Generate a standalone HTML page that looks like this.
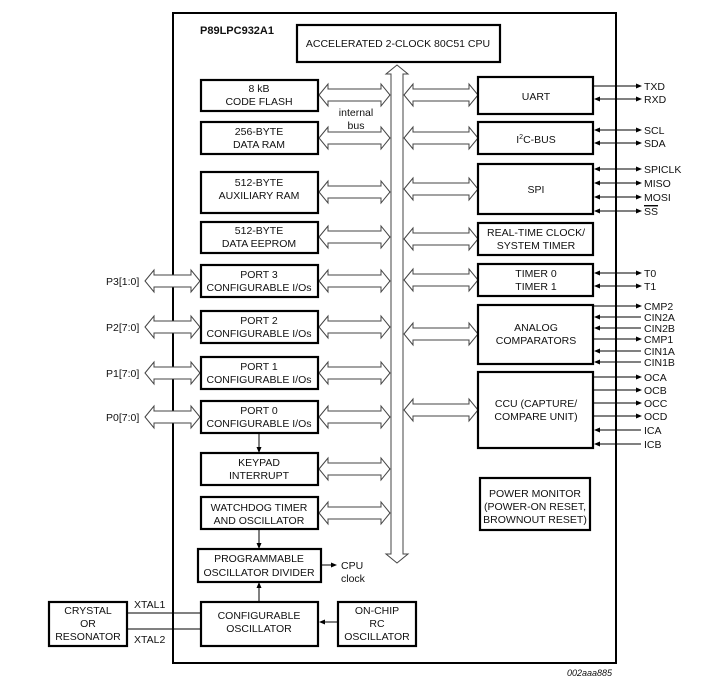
<!DOCTYPE html>
<html><head><meta charset="utf-8"><style>
html,body{margin:0;padding:0;background:#fff;}
svg{display:block;}
text{font-family:"Liberation Sans",Arial,sans-serif;font-size:10.5px;fill:#111;}
.c{text-anchor:middle;}
.b{fill:#fff;stroke:#000;stroke-width:2.2;}
.h{fill:#fff;stroke:#444;stroke-width:1;}
.l{stroke:#000;stroke-width:1;fill:none;}
</style></head><body>
<svg width="715" height="681" viewBox="0 0 715 681" xmlns="http://www.w3.org/2000/svg">
<defs>
<marker id="ar" markerWidth="6" markerHeight="6" refX="5" refY="3" orient="auto" markerUnits="userSpaceOnUse"><path d="M0,0.5 L6,3 L0,5.5z" fill="#000"/></marker>
<marker id="as" markerWidth="6" markerHeight="6" refX="1" refY="3" orient="auto" markerUnits="userSpaceOnUse"><path d="M6,0.5 L0,3 L6,5.5z" fill="#000"/></marker>
<polygon id="gL" class="h" points="319,0 328,-11 328,-6 381,-6 381,-11 390,0 381,11 381,6 328,6 328,11"/>
<polygon id="gR" class="h" points="404,0 413,-11 413,-6 469,-6 469,-11 478,0 469,11 469,6 413,6 413,11"/>
<polygon id="gP" class="h" points="145,0 154,-11 154,-6 191,-6 191,-11 200,0 191,11 191,6 154,6 154,11"/>
</defs>
<rect x="173" y="13" width="443" height="650" fill="none" stroke="#000" stroke-width="2"/>
<text x="200" y="34" style="font-weight:bold;font-size:11px">P89LPC932A1</text>
<rect class="b" x="297" y="25" width="203" height="37"/>
<text class="c" x="398" y="47">ACCELERATED 2-CLOCK 80C51 CPU</text>
<polygon class="h" points="397,65 408,74 403,74 403,554 408,554 397,563 386,554 391,554 391,74 386,74"/>
<text class="c" x="356" y="116">internal</text><text class="c" x="356" y="129">bus</text>

<use href="#gL" y="95"/><use href="#gL" y="138"/><use href="#gL" y="192"/><use href="#gL" y="237"/>
<use href="#gL" y="281"/><use href="#gL" y="327"/><use href="#gL" y="373"/><use href="#gL" y="417"/>
<use href="#gL" y="469"/><use href="#gL" y="513"/>
<use href="#gR" y="95"/><use href="#gR" y="138"/><use href="#gR" y="189"/><use href="#gR" y="239"/>
<use href="#gR" y="280"/><use href="#gR" y="334"/><use href="#gR" y="410"/>
<use href="#gP" y="281"/><use href="#gP" y="327"/><use href="#gP" y="373"/><use href="#gP" y="417"/>
<text x="106" y="285">P3[1:0]</text><text x="106" y="331">P2[7:0]</text><text x="106" y="377">P1[7:0]</text><text x="106" y="421">P0[7:0]</text>

<rect class="b" x="201" y="80" width="117" height="31"/><text class="c" x="259" y="92">8 kB</text><text class="c" x="259" y="105">CODE FLASH</text>
<rect class="b" x="201" y="122" width="117" height="32"/><text class="c" x="259" y="135">256-BYTE</text><text class="c" x="259" y="148">DATA RAM</text>
<rect class="b" x="201" y="172" width="117" height="41"/><text class="c" x="259" y="186">512-BYTE</text><text class="c" x="259" y="199">AUXILIARY RAM</text>
<rect class="b" x="201" y="222" width="117" height="31"/><text class="c" x="259" y="234">512-BYTE</text><text class="c" x="259" y="247">DATA EEPROM</text>
<rect class="b" x="201" y="265" width="117" height="32"/><text class="c" x="259" y="278">PORT 3</text><text class="c" x="259" y="291">CONFIGURABLE I/Os</text>
<rect class="b" x="201" y="311" width="117" height="32"/><text class="c" x="259" y="324">PORT 2</text><text class="c" x="259" y="337">CONFIGURABLE I/Os</text>
<rect class="b" x="201" y="357" width="117" height="32"/><text class="c" x="259" y="370">PORT 1</text><text class="c" x="259" y="383">CONFIGURABLE I/Os</text>
<rect class="b" x="201" y="401" width="117" height="32"/><text class="c" x="259" y="414">PORT 0</text><text class="c" x="259" y="427">CONFIGURABLE I/Os</text>
<line class="l" x1="259" y1="434" x2="259" y2="452" marker-end="url(#ar)"/>
<rect class="b" x="201" y="453" width="117" height="32"/><text class="c" x="259" y="466">KEYPAD</text><text class="c" x="259" y="479">INTERRUPT</text>
<rect class="b" x="201" y="497" width="117" height="32"/><text class="c" x="259" y="511">WATCHDOG TIMER</text><text class="c" x="259" y="524">AND OSCILLATOR</text>
<line class="l" x1="259" y1="530" x2="259" y2="548" marker-end="url(#ar)"/>
<rect class="b" x="198" y="549" width="123" height="33"/><text class="c" x="259" y="562">PROGRAMMABLE</text><text class="c" x="259" y="576">OSCILLATOR DIVIDER</text>
<line class="l" x1="322" y1="565" x2="336" y2="565" marker-end="url(#ar)"/>
<text x="341" y="569">CPU</text><text x="341" y="582">clock</text>
<line class="l" x1="259" y1="601" x2="259" y2="583" marker-end="url(#ar)"/>
<rect class="b" x="201" y="602" width="117" height="44"/><text class="c" x="259" y="619">CONFIGURABLE</text><text class="c" x="259" y="632">OSCILLATOR</text>
<rect class="b" x="338" y="602" width="78" height="44"/><text class="c" x="377" y="614">ON-CHIP</text><text class="c" x="377" y="627">RC</text><text class="c" x="377" y="640">OSCILLATOR</text>
<line class="l" x1="337" y1="622" x2="320" y2="622" marker-end="url(#ar)"/>
<rect class="b" x="49" y="602" width="78" height="44"/><text class="c" x="88" y="614">CRYSTAL</text><text class="c" x="88" y="627">OR</text><text class="c" x="88" y="640">RESONATOR</text>
<line class="l" x1="128" y1="613" x2="200" y2="613"/><line class="l" x1="128" y1="629" x2="200" y2="629"/>
<text x="134" y="608">XTAL1</text><text x="134" y="643">XTAL2</text>

<rect class="b" x="478" y="77" width="115" height="37"/><text class="c" x="536" y="100">UART</text>
<rect class="b" x="478" y="122" width="115" height="32"/><text class="c" x="536" y="143">I<tspan dy="-4" style="font-size:7px">2</tspan><tspan dy="4">C-BUS</tspan></text>
<rect class="b" x="478" y="164" width="115" height="50"/><text class="c" x="536" y="193">SPI</text>
<rect class="b" x="478" y="223" width="115" height="32"/><text class="c" x="536" y="236">REAL-TIME CLOCK/</text><text class="c" x="536" y="249">SYSTEM TIMER</text>
<rect class="b" x="478" y="264" width="115" height="32"/><text class="c" x="536" y="277">TIMER 0</text><text class="c" x="536" y="290">TIMER 1</text>
<rect class="b" x="478" y="305" width="115" height="59"/><text class="c" x="536" y="331">ANALOG</text><text class="c" x="536" y="344">COMPARATORS</text>
<rect class="b" x="478" y="372" width="115" height="76"/><text class="c" x="536" y="407">CCU (CAPTURE/</text><text class="c" x="536" y="420">COMPARE UNIT)</text>
<rect class="b" x="480" y="478" width="110" height="52"/><text class="c" x="535" y="497">POWER MONITOR</text><text class="c" x="535" y="510">(POWER-ON RESET,</text><text class="c" x="535" y="523">BROWNOUT RESET)</text>

<g class="l">
<line x1="594" y1="86" x2="641" y2="86" marker-end="url(#ar)"/>
<line x1="595" y1="99" x2="641" y2="99" marker-end="url(#ar)" marker-start="url(#as)"/>
<line x1="595" y1="130" x2="641" y2="130" marker-end="url(#ar)" marker-start="url(#as)"/>
<line x1="595" y1="143" x2="641" y2="143" marker-end="url(#ar)" marker-start="url(#as)"/>
<line x1="595" y1="169" x2="641" y2="169" marker-end="url(#ar)" marker-start="url(#as)"/>
<line x1="595" y1="183" x2="641" y2="183" marker-end="url(#ar)" marker-start="url(#as)"/>
<line x1="595" y1="197" x2="641" y2="197" marker-end="url(#ar)" marker-start="url(#as)"/>
<line x1="595" y1="211" x2="641" y2="211" marker-end="url(#ar)" marker-start="url(#as)"/>
<line x1="595" y1="273" x2="641" y2="273" marker-end="url(#ar)" marker-start="url(#as)"/>
<line x1="595" y1="286" x2="641" y2="286" marker-end="url(#ar)" marker-start="url(#as)"/>
<line x1="594" y1="306" x2="641" y2="306" marker-end="url(#ar)"/>
<line x1="595" y1="317" x2="641" y2="317" marker-start="url(#as)"/>
<line x1="595" y1="328" x2="641" y2="328" marker-start="url(#as)"/>
<line x1="594" y1="339" x2="641" y2="339" marker-end="url(#ar)"/>
<line x1="595" y1="351" x2="641" y2="351" marker-start="url(#as)"/>
<line x1="595" y1="362" x2="641" y2="362" marker-start="url(#as)"/>
<line x1="594" y1="377" x2="641" y2="377" marker-end="url(#ar)"/>
<line x1="594" y1="390" x2="641" y2="390" marker-end="url(#ar)"/>
<line x1="594" y1="403" x2="641" y2="403" marker-end="url(#ar)"/>
<line x1="594" y1="416" x2="641" y2="416" marker-end="url(#ar)"/>
<line x1="595" y1="430" x2="641" y2="430" marker-start="url(#as)"/>
<line x1="595" y1="444" x2="641" y2="444" marker-start="url(#as)"/>
</g>
<g>
<text x="644" y="90">TXD</text><text x="644" y="103">RXD</text>
<text x="644" y="134">SCL</text><text x="644" y="147">SDA</text>
<text x="644" y="173">SPICLK</text><text x="644" y="187">MISO</text><text x="644" y="201">MOSI</text><text x="644" y="215" style="text-decoration:overline">SS</text>
<line x1="644" y1="206" x2="658" y2="206" stroke="#000" stroke-width="0.8"/>
<text x="644" y="277">T0</text><text x="644" y="290">T1</text>
<text x="644" y="310">CMP2</text><text x="644" y="321">CIN2A</text><text x="644" y="332">CIN2B</text><text x="644" y="343">CMP1</text><text x="644" y="355">CIN1A</text><text x="644" y="366">CIN1B</text>
<text x="644" y="381">OCA</text><text x="644" y="394">OCB</text><text x="644" y="407">OCC</text><text x="644" y="420">OCD</text><text x="644" y="434">ICA</text><text x="644" y="448">ICB</text>
</g>
<text x="567" y="676" style="font-style:italic;font-size:9px">002aaa885</text>
</svg>
</body></html>
